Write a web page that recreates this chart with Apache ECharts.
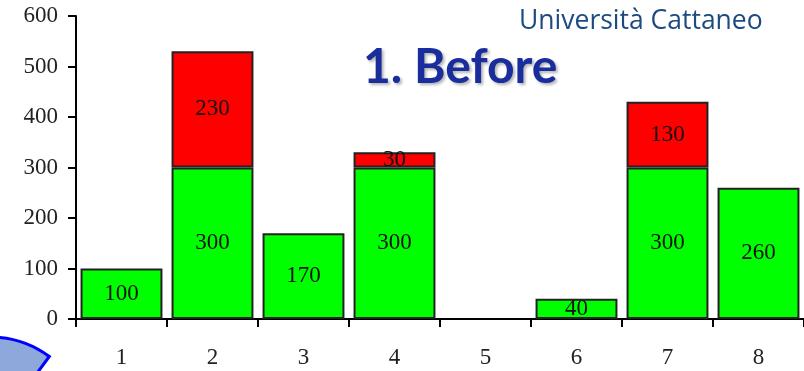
<!DOCTYPE html>
<html>
<head>
<meta charset="utf-8">
<script src="https://cdn.jsdelivr.net/npm/echarts@6/dist/echarts.min.js"></script>
<style>
  html, body { margin: 0; padding: 0; background: #fff; }
  #main { width: 804px; height: 371px; }
</style>
</head>
<body>
<div id="main"></div>
<script>
// values
var categories = ['1', '2', '3', '4', '5', '6', '7', '8'];
var baseValues = [100, 300, 170, 300, 0, 40, 300, 260];   // green
var extraValues = [0, 230, 0, 30, 0, 0, 130, 0];          // red

var serif = '"Liberation Serif", "DejaVu Serif", serif';

// empty segments are not drawn
function clean(arr) {
    return arr.map(function (v) { return v === 0 ? '-' : v; });
}

var barLabel = {
    show: true,
    position: 'inside',
    color: '#111',
    fontFamily: serif,
    fontSize: 23
};

var chart = echarts.init(document.getElementById('main'));

var option = {
    animation: false,
    backgroundColor: '#fff',
    title: [
        {
            text: 'Università Cattaneo',
            left: 514,
            top: 3,
            textStyle: { color: '#1d4a80', fontFamily: 'Open Sans', fontWeight: 'normal', fontSize: 26.5 }
        },
        {
            text: '1. Before',
            left: 358,
            top: 39,
            textStyle: {
                color: '#1a2d9c', fontFamily: 'Lato', fontWeight: 'bold', fontSize: 48,
                textShadowColor: 'rgba(0,0,0,0.3)', textShadowBlur: 3, textShadowOffsetX: 2, textShadowOffsetY: 2
            }
        }
    ],
    graphic: [
        {
            type: 'sector',
            shape: { cx: -10, cy: 437, r: 100, r0: 0, startAngle: -Math.PI, endAngle: -0.936, clockwise: true },
            style: { fill: '#8fa8dc', stroke: '#0000ff', lineWidth: 3 },
            z: 10
        }
    ],
    grid: { left: 76, right: 0, top: 16, bottom: 52, containLabel: false },
    xAxis: {
        type: 'category',
        data: categories,
        axisLine: { lineStyle: { color: '#000', width: 2 } },
        axisTick: { show: true, length: 8, lineStyle: { color: '#000', width: 2 } },
        axisLabel: { color: '#222', fontFamily: serif, fontSize: 23, margin: 27 }
    },
    yAxis: {
        type: 'value',
        min: 0,
        max: 600,
        interval: 100,
        splitLine: { show: false },
        axisLine: { show: true, lineStyle: { color: '#000', width: 2 } },
        axisTick: { show: true, length: 8, lineStyle: { color: '#000', width: 2 } },
        axisLabel: { color: '#222', fontFamily: serif, fontSize: 23, margin: 18 }
    },
    series: [
        {
            name: 'base',
            type: 'bar',
            stack: 'total',
            barCategoryGap: '10%',
            data: clean(baseValues),
            itemStyle: { color: '#00ff00', borderColor: '#222', borderWidth: 2 },
            label: barLabel
        },
        {
            name: 'extra',
            type: 'bar',
            stack: 'total',
            barCategoryGap: '10%',
            data: clean(extraValues),
            itemStyle: { color: '#ff0000', borderColor: '#222', borderWidth: 2 },
            label: barLabel
        }
    ]
};

chart.setOption(option);
</script>
</body>
</html>
